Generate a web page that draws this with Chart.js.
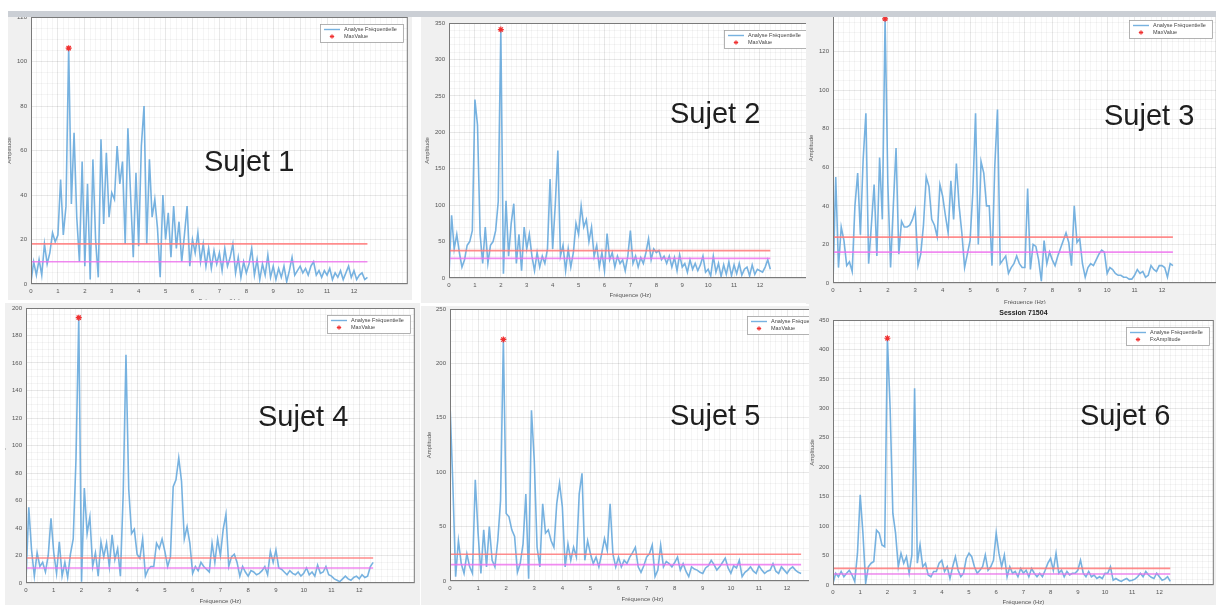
<!DOCTYPE html>
<html>
<head>
<meta charset="utf-8">
<script src="https://cdn.jsdelivr.net/npm/chart.js@4.4.1/dist/chart.umd.min.js"></script>
<style>
  body { margin: 0; width: 1216px; height: 605px; background: #fff; position: relative; overflow: hidden;
         font-family: "Liberation Sans", Arial, sans-serif; }
  .panel { position: absolute; background: #f0f0f0; overflow: hidden; }
  .panel canvas { position: absolute; }
  .bandeau { position: absolute; left: 8px; top: 11px; width: 1208px; height: 6px; background: #cbcfd5; z-index: 2; }
  .sujet { position: absolute; font-size: 29px; line-height: 30px; color: #1e1e1e; white-space: nowrap; z-index: 3; }
</style>
</head>
<body>
<div class="bandeau"></div>
<script>
// spectres d'amplitude, un point tous les 0.1 Hz a partir de 0 Hz
const freqStep = 0.1;

const sujet1 = [
  1, 10, 4, 11, 4, 18, 9, 14, 23, 19,
  22, 47, 22, 35, 106, 36, 68, 30, 10, 55,
  8, 45, 2, 56, 20, 3, 65, 27, 59, 30,
  41, 38, 62, 45, 55, 18, 70, 40, 12, 50,
  17, 62, 80, 18, 56, 30, 38, 25, 3, 40,
  20, 32, 12, 35, 16, 28, 10, 22, 35, 8,
  20, 14, 23, 10, 18, 8, 16, 7, 15, 9,
  14, 6, 16, 8, 12, 18, 5, 12, 3, 10,
  5, 9, 16, 4, 11, 2, 9, 4, 13, 3,
  8, 2, 7, 3, 8, 1, 6, 12, 4, 6,
  8, 5, 7, 4, 8, 10, 4, 6, 3, 6,
  4, 7, 2, 5, 3, 6, 2, 5, 8, 3,
  6, 2, 4, 5, 2, 3
];
const sujet2 = [
  5, 86, 40, 60, 35, 15, 25, 45, 50, 65,
  245, 210, 60, 20, 70, 20, 45, 50, 65, 105,
  341, 6, 106, 30, 75, 102, 20, 60, 10, 70,
  40, 60, 30, 10, 35, 15, 30, 20, 40, 136,
  40, 100, 175, 30, 45, 10, 40, 15, 35, 75,
  60, 99, 70, 80, 50, 70, 30, 45, 15, 35,
  10, 61, 25, 35, 15, 30, 20, 25, 10, 30,
  65, 20, 30, 15, 28, 20, 35, 54, 25, 40,
  35, 38, 25, 30, 20, 30, 15, 28, 10, 32,
  15, 20, 8, 25, 12, 20, 10, 18, 30, 8,
  12, 3, 30, 8, 20, 2, 18, 5, 22, 3,
  18, 6, 20, 4, 12, 15, 3, 18, 5, 12,
  10, 8, 15, 25, 12
];
const sujet3 = [
  0, 55, 8, 29, 22, 9, 11, 6, 40, 57,
  25, 64, 88, 10, 30, 51, 14, 65, 33, 137,
  52, 8, 40, 70, 15, 32, 29, 29, 30, 33,
  38, 9, 15, 30, 55, 50, 33, 30, 24, 51,
  45, 35, 26, 53, 33, 62, 40, 26, 8, 15,
  22, 47, 88, 20, 63, 57, 40, 40, 9, 60,
  90, 10, 12, 14, 5, 8, 10, 14, 10, 8,
  8, 49, 7, 20, 19, 12, 1, 22, 10, 16,
  12, 9, 14, 18, 22, 26, 21, 9, 40, 21,
  23, 10, 3, 8, 10, 9, 12, 15, 17, 16,
  5, 8, 7, 5, 4, 4, 3, 3, 2, 2,
  4, 7, 5, 6, 3, 4, 9, 7, 6, 9,
  9, 8, 3, 10, 9
];
const sujet4 = [
  2, 55, 24, 5, 22, 12, 15, 8, 20, 47,
  22, 7, 30, 5, 15, 4, 21, 32, 90, 193,
  1, 69, 36, 48, 12, 22, 5, 30, 19, 29,
  12, 35, 17, 25, 5, 65, 166, 68, 36, 39,
  21, 18, 32, 5, 10, 12, 12, 29, 25, 32,
  23, 12, 19, 70, 75, 91, 74, 32, 41, 29,
  7, 12, 9, 15, 12, 10, 8, 29, 15, 32,
  20, 39, 50, 12, 19, 21, 15, 5, 12, 8,
  5, 9, 8, 6, 7, 9, 12, 6, 23, 15,
  24, 11, 10, 8, 6, 9, 7, 6, 8, 5,
  7, 11, 6, 8, 5, 13, 7, 8, 12, 6,
  5, 3, 2, 1, 3, 5, 3, 2, 4, 5,
  3, 6, 4, 5, 12, 15
];
const sujet5 = [
  163, 90, 4, 37, 16, 7, 25, 13, 7, 93,
  44, 7, 47, 13, 50, 19, 13, 37, 74, 222,
  62, 59, 47, 41, 8, 16, 34, 80, 2, 157,
  111, 31, 13, 71, 44, 47, 37, 31, 71, 90,
  68, 13, 34, 19, 31, 22, 80, 99, 19, 37,
  25, 16, 22, 13, 25, 39, 28, 71, 25, 13,
  22, 13, 19, 16, 22, 26, 31, 13, 8, 14,
  22, 25, 33, 4, 10, 33, 13, 18, 16, 13,
  17, 22, 10, 16, 9, 4, 13, 11, 10, 8,
  7, 12, 14, 19, 15, 10, 13, 17, 21, 12,
  7, 14, 12, 19, 4, 8, 10, 13, 9, 7,
  14, 10, 7, 9, 10, 16, 9, 7, 13, 10,
  7, 11, 13, 10, 8, 7
];
const sujet6 = [
  3, 20, 14, 23, 14, 20, 25, 17, 6, 54,
  153, 88, 3, 31, 37, 40, 93, 88, 68, 65,
  419, 300, 122, 88, 31, 54, 37, 48, 20, 51,
  334, 37, 68, 31, 37, 17, 14, 23, 23, 37,
  42, 23, 31, 11, 31, 48, 25, 14, 20, 45,
  54, 48, 31, 20, 25, 31, 51, 25, 31, 42,
  88, 54, 31, 51, 14, 31, 20, 23, 14, 28,
  20, 25, 14, 28, 20, 14, 20, 14, 25, 37,
  45, 25, 54, 20, 25, 14, 23, 17, 20, 20,
  25, 42, 20, 14, 23, 14, 17, 11, 14, 11,
  20, 20, 31, 8, 11, 8, 6, 9, 11, 7,
  8, 10, 14, 20, 14, 23, 17, 13, 11, 20,
  14, 8, 10, 14, 6
];

const spectres = [sujet1, sujet2, sujet3, sujet4, sujet5, sujet6];
const sujets = ['Sujet 1', 'Sujet 2', 'Sujet 3', 'Sujet 4', 'Sujet 5', 'Sujet 6'];
const seuilHaut = [18, 37.5, 23.8, 18.2, 24.6, 28.3];
const seuilBas = [10, 27, 16, 10.9, 15.1, 18.7];
const yMax = [120, 350, 140, 200, 250, 450];
const yStep = [20, 50, 20, 20, 50, 50];
const yMinor = [5, 10, 5, 5, 10, 10];
const xMax = [14, 14, 14, 14, 13.7, 14];
const xTicksMax = 12;
const nomMax = ['MaxValue', 'MaxValue', 'MaxValue', 'MaxValue', 'MaxValue', 'FxAmplitude'];
const titreSession = [null, null, null, null, null, 'Session 71504'];

// emplacement des fenetres sur la page : box = fond gris, plot = zone des axes
const panneaux = [
  { box: [8, 11, 404, 289],   plot: [31, 17, 409, 284],   yTitleX: 10,  xTitleY: 301, sujet: [204, 161] },
  { box: [421, 11, 385, 292], plot: [449, 23, 813, 278],  yTitleX: 428, xTitleY: 295, sujet: [670, 113] },
  { box: [806, 11, 410, 293], plot: [833, 13, 1218, 283], yTitleX: 812, xTitleY: 302, sujet: [1104, 115] },
  { box: [5, 303, 415, 302],  plot: [26, 308, 416, 583],  yTitleX: 4,   xTitleY: 601, sujet: [258, 416] },
  { box: [421, 306, 388, 299], plot: [450, 309, 836, 581], yTitleX: 430, xTitleY: 599, sujet: [670, 415] },
  { box: [809, 304, 407, 301], plot: [833, 320, 1215, 585], yTitleX: 813, xTitleY: 602, sujet: [1080, 415] }
];

Chart.defaults.font.family = '"Liberation Sans", Arial, sans-serif';
Chart.defaults.color = '#555';

const bleu = 'rgba(95,165,218,0.85)';
const rouge = 'rgba(255,120,120,0.85)';
const magenta = 'rgba(238,110,238,0.8)';
const gridMajor = 'rgba(0,0,0,0.09)';
const gridMinor = 'rgba(0,0,0,0.04)';

function etoile(ctx, x, y, r, color) {
  ctx.save();
  ctx.strokeStyle = color;
  ctx.lineWidth = 1;
  ctx.beginPath();
  for (let k = 0; k < 4; k++) {
    const a = k * Math.PI / 4;
    ctx.moveTo(x - r * Math.cos(a), y - r * Math.sin(a));
    ctx.lineTo(x + r * Math.cos(a), y + r * Math.sin(a));
  }
  ctx.stroke();
  ctx.restore();
}

// fond blanc des axes, cadre, legende facon matlab et titre eventuel
function decoMatlab(titre) {
  return {
    id: 'decoMatlab',
    beforeDraw(chart) {
      const { ctx, chartArea: a } = chart;
      ctx.save();
      ctx.fillStyle = '#fff';
      ctx.fillRect(a.left, a.top, a.width, a.height);
      ctx.restore();
    },
    afterDraw(chart) {
      const { ctx, chartArea: a } = chart;
      const ds = chart.data.datasets;
      ctx.save();
      ctx.strokeStyle = '#7a7a7a';
      ctx.lineWidth = 1;
      ctx.strokeRect(a.left + 0.5, a.top + 0.5, a.width - 1, a.height - 1);

      ctx.font = '5.5px "Liberation Sans", Arial, sans-serif';
      const w = Math.max(ctx.measureText(ds[0].label).width, ctx.measureText(ds[1].label).width) + 30;
      const h = 18, x = Math.round(a.right - 5 - w), y = Math.round(a.top + 7);
      ctx.fillStyle = '#fff';
      ctx.fillRect(x, y, w, h);
      ctx.strokeStyle = '#a0a0a0';
      ctx.lineWidth = 0.8;
      ctx.strokeRect(x + 0.5, y + 0.5, w, h);
      ctx.strokeStyle = ds[0].borderColor;
      ctx.lineWidth = 1.4;
      ctx.beginPath();
      ctx.moveTo(x + 4, y + 5.5);
      ctx.lineTo(x + 20, y + 5.5);
      ctx.stroke();
      etoile(ctx, x + 12, y + 12.5, 2.2, ds[1].borderColor);
      ctx.fillStyle = '#444';
      ctx.textBaseline = 'middle';
      ctx.textAlign = 'left';
      ctx.fillText(ds[0].label, x + 24, y + 5.5);
      ctx.fillText(ds[1].label, x + 24, y + 12.5);

      if (titre) {
        ctx.font = 'bold 7px "Liberation Sans", Arial, sans-serif';
        ctx.textAlign = 'center';
        ctx.fillStyle = '#222';
        ctx.fillText(titre, (a.left + a.right) / 2, a.top - 7);
      }
      ctx.restore();
    }
  };
}

spectres.forEach((vals, i) => {
  const p = panneaux[i];
  const [bx, by, bw, bh] = p.box;
  const [pl, pt, pr, pb] = p.plot;

  const panel = document.createElement('div');
  panel.className = 'panel';
  Object.assign(panel.style, { left: bx + 'px', top: by + 'px', width: bw + 'px', height: bh + 'px' });
  document.body.appendChild(panel);

  const cLeft = Math.round(p.yTitleX - 4);
  const cTop = pt - 14;
  const cRight = pr + 4;
  const cBottom = Math.round(p.xTitleY + 4);
  const canvas = document.createElement('canvas');
  canvas.width = cRight - cLeft;
  canvas.height = cBottom - cTop;
  Object.assign(canvas.style, {
    left: (cLeft - bx) + 'px', top: (cTop - by) + 'px',
    width: canvas.width + 'px', height: canvas.height + 'px'
  });
  panel.appendChild(canvas);

  const points = vals.map((v, k) => ({ x: +(k * freqStep).toFixed(1), y: v }));
  let iMax = 0;
  vals.forEach((v, k) => { if (v > vals[iMax]) iMax = k; });
  const fin = points[points.length - 1].x;

  new Chart(canvas, {
    type: 'line',
    data: {
      datasets: [
        { label: 'Analyse Fréquentielle', data: points, borderColor: bleu, borderWidth: 1.6,
          pointRadius: 0, tension: 0, order: 3 },
        { label: nomMax[i], data: [points[iMax]], borderColor: '#f03030', backgroundColor: '#f03030',
          pointStyle: 'star', pointRadius: 3, borderWidth: 1.2, showLine: false, order: 0 },
        { label: 'seuil haut', data: [{ x: 0, y: seuilHaut[i] }, { x: fin, y: seuilHaut[i] }],
          borderColor: rouge, borderWidth: 1.7, pointRadius: 0, order: 1 },
        { label: 'seuil bas', data: [{ x: 0, y: seuilBas[i] }, { x: fin, y: seuilBas[i] }],
          borderColor: magenta, borderWidth: 1.7, pointRadius: 0, order: 2 }
      ]
    },
    options: {
      responsive: false,
      animation: false,
      devicePixelRatio: 1,
      layout: { padding: { top: 14, right: 4, bottom: 0, left: 0 } },
      plugins: { legend: { display: false }, tooltip: { enabled: false } },
      scales: {
        x: {
          type: 'linear', min: 0, max: xMax[i],
          afterBuildTicks: s => {
            const t = [];
            const n = Math.floor(xMax[i] / 0.2 + 1e-6);
            for (let k = 0; k <= n; k++) t.push({ value: Math.round(k * 2) / 10 });
            s.ticks = t;
          },
          afterFit: s => { s.height = cBottom - pb; },
          border: { display: false },
          grid: {
            drawTicks: false,
            color: c => (Number.isInteger(c.tick.value) && c.tick.value <= xTicksMax) ? gridMajor : gridMinor
          },
          ticks: {
            autoSkip: false, maxRotation: 0, minRotation: 0, padding: 4,
            font: { size: 6 },
            callback: v => (Number.isInteger(v) && v <= xTicksMax) ? v : ''
          },
          title: { display: true, text: 'Fréquence (Hz)', font: { size: 6 }, padding: 0, color: '#555' }
        },
        y: {
          min: 0, max: yMax[i],
          afterBuildTicks: s => {
            const t = [];
            for (let v = 0; v <= yMax[i]; v += yMinor[i]) t.push({ value: v });
            s.ticks = t;
          },
          afterFit: s => { s.width = pl - cLeft; },
          border: { display: false },
          grid: {
            drawTicks: false,
            color: c => (c.tick.value % yStep[i] === 0) ? gridMajor : gridMinor
          },
          ticks: {
            autoSkip: false, padding: 4,
            font: { size: 6 },
            callback: v => (v % yStep[i] === 0) ? v : ''
          },
          title: { display: true, text: 'Amplitude', font: { size: 6 }, padding: 0, color: '#555' }
        }
      }
    },
    plugins: [decoMatlab(titreSession[i])]
  });

  const lab = document.createElement('div');
  lab.className = 'sujet';
  lab.textContent = sujets[i];
  lab.style.left = p.sujet[0] + 'px';
  lab.style.top = (p.sujet[1] - 15) + 'px';
  document.body.appendChild(lab);
});
</script>
</body>
</html>
